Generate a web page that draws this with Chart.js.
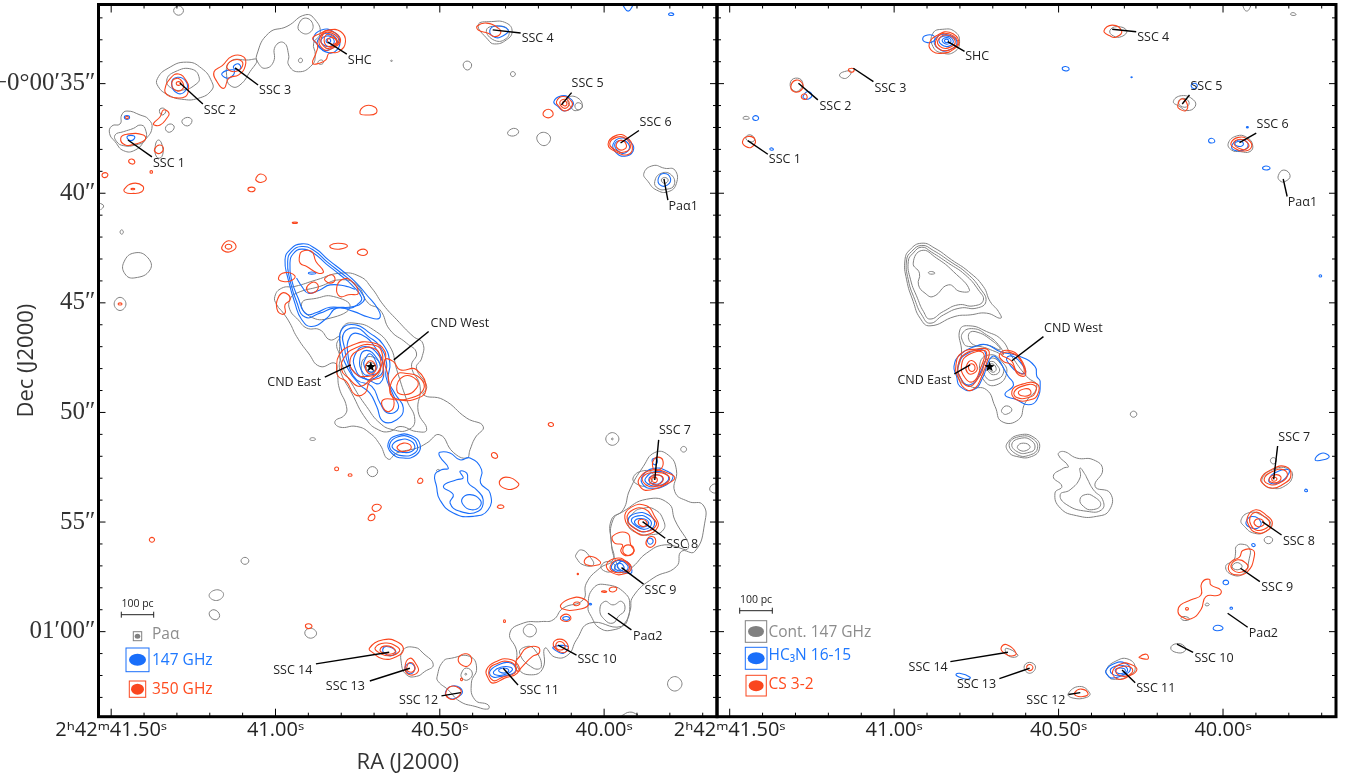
<!DOCTYPE html>
<html><head><meta charset="utf-8">
<style>html,body{margin:0;padding:0;background:#fff;width:1352px;height:778px;overflow:hidden}
canvas{position:absolute;left:0;top:0}</style>
<script src="https://cdn.jsdelivr.net/npm/chart.js@4"></script></head>
<body><canvas id="a" width="1352" height="778"></canvas><canvas id="b" width="1352" height="778"></canvas>
<script>
// every ring: ra(s), dec(") pairs
const raTicks=[41.5,41.4,41.3,41.2,41.1,41.0,40.9,40.8,40.7,40.6,40.5,40.4,40.3,40.2,40.1,40.0,39.9,39.8,39.7];
const raMajor=[41.5,41.0,40.5,40.0];
const raLabels=["2ʰ42ᵐ41.50ˢ","41.00ˢ","40.50ˢ","40.00ˢ"];
const decTicks=[32,33,34,35,36,37,38,39,40,41,42,43,44,45,46,47,48,49,50,51,52,53,54,55,56,57,58,59,60,61,62,63];
const decMajor=[35,40,45,50,55,60];
const decLabels=["−0°00′35″","40″","45″","50″","55″","01′00″"];
const starPos=[40.71,47.92];

const leftGray=[
[41.002,44.71,40.981,44.33,40.941,44.25,40.875,43.95,40.804,43.65,40.743,43.80,40.707,44.33,40.672,45.09,40.631,45.77,40.581,46.53,40.552,46.84,40.555,47.52,40.571,47.98,40.540,48.81,40.550,49.19,40.489,49.42,40.418,50.26,40.368,50.64,40.393,51.17,40.408,51.70,40.418,52.08,40.459,51.82,40.500,51.02,40.540,51.40,40.571,51.63,40.631,51.85,40.657,52.13,40.682,51.47,40.713,50.94,40.753,50.64,40.804,50.67,40.819,50.41,40.789,50.11,40.784,49.73,40.806,48.89,40.812,48.21,40.819,47.75,40.865,47.90,40.900,47.29,40.936,46.53,40.956,45.93,40.976,45.47,40.996,45.09,41.002,44.71],
[40.956,44.86,40.936,44.56,40.865,44.25,40.804,43.95,40.753,44.18,40.718,45.01,40.682,45.32,40.652,46.23,40.601,46.84,40.571,47.29,40.586,47.90,40.560,48.81,40.566,49.95,40.540,50.79,40.571,50.87,40.621,50.64,40.652,50.87,40.687,50.79,40.723,50.33,40.768,49.12,40.804,48.05,40.804,47.45,40.814,46.91,40.804,46.53,40.834,46.69,40.865,46.23,40.905,46.15,40.931,45.77,40.956,45.32,40.956,44.86],
[40.758,45.93,40.702,46.23,40.652,46.99,40.631,48.05,40.601,49.42,40.576,50.33,40.596,50.79,40.642,50.79,40.682,50.49,40.723,49.73,40.763,48.81,40.799,47.75,40.804,46.84,40.794,46.08,40.758,45.93],
[40.920,45.01,40.875,44.79,40.824,44.71,40.773,45.17,40.834,45.70,40.895,45.62,40.920,45.01],
[40.738,47.75,40.711,47.45,40.682,47.83,40.692,48.36,40.723,48.51,40.738,47.75],
[40.725,47.90,40.711,47.72,40.695,47.93,40.707,48.18,40.725,47.90],
[40.721,52.70,40.705,52.47,40.689,52.70,40.705,52.93,40.721,52.70],
[40.896,51.22,40.887,51.15,40.878,51.22,40.887,51.28,40.896,51.22],
[40.510,52.65,40.505,52.60,40.500,52.65,40.505,52.70,40.510,52.65],
[41.452,36.25,41.412,36.43,41.386,36.63,41.376,37.04,41.397,37.57,41.427,38.03,41.462,38.06,41.488,37.65,41.505,37.27,41.498,36.93,41.473,36.84,41.468,36.43,41.452,36.25],
[41.488,37.34,41.462,37.19,41.432,37.04,41.412,36.89,41.397,37.04,41.397,37.57,41.427,37.80,41.462,37.83,41.483,37.65,41.488,37.34],
[41.353,36.20,41.341,36.12,41.334,36.28,41.346,36.43,41.353,36.20],
[41.335,37.04,41.321,36.84,41.308,36.99,41.323,37.22,41.335,37.04],
[41.285,36.73,41.268,36.54,41.254,36.69,41.268,36.93,41.285,36.73],
[41.366,37.87,41.356,37.57,41.344,37.87,41.346,38.33,41.361,38.36,41.366,37.87],
[41.473,41.77,41.468,41.67,41.463,41.77,41.468,41.87,41.473,41.77],
[41.537,40.43,41.523,40.58,41.533,40.77],
[41.461,43.13,41.428,42.72,41.388,42.95,41.382,43.50,41.428,43.86,41.458,43.68,41.461,43.13],
[41.491,45.05,41.473,44.75,41.455,45.05,41.473,45.35,41.491,45.05],
[41.310,31.67,41.295,31.45,41.280,31.67,41.295,31.88,41.310,31.67],
// SSC 2, SSC 3 and the arc to SHC
[41.359,34.76,41.327,34.30,41.271,34.02,41.225,34.30,41.194,34.91,41.194,35.29,41.235,35.67,41.286,35.71,41.327,35.51,41.357,35.13,41.359,34.76],
[41.331,34.84,41.306,34.46,41.255,34.34,41.232,34.75,41.245,35.06,41.281,35.29,41.316,35.21,41.331,34.84],
[41.138,34.00,41.082,33.92,41.057,33.92,41.077,34.44,41.108,35.06,41.133,35.13,41.148,34.75,41.138,34.00],
[41.057,33.69,41.021,32.70,40.965,32.39,40.909,31.86,40.879,32.09,40.864,32.70,40.884,33.16,40.879,33.69,40.889,34.15,40.930,34.46,40.960,34.15,40.960,33.69,40.975,33.13,41.001,33.31,41.006,34.00,41.031,34.30,41.052,34.07,41.057,33.69],
[40.930,32.32,40.909,32.01,40.886,32.32,40.899,32.70,40.925,32.62,40.930,32.32],
[40.930,33.92,40.922,33.84,40.918,33.97,40.926,34.04,40.930,33.92],
[40.871,34.02,40.860,33.92,40.854,34.04,40.864,34.12,40.871,34.02],
// SSC 4, 5, 6, Pa-alpha 1 and neighbours
[40.383,32.32,40.343,32.17,40.297,32.24,40.280,32.62,40.297,33.00,40.333,33.19,40.353,33.00,40.383,32.32],
[40.358,32.55,40.322,32.37,40.292,32.55,40.297,32.93,40.333,33.03,40.358,32.55],
[40.429,34.15,40.417,33.97,40.403,34.15,40.416,34.38,40.429,34.15],
[40.285,34.56,40.278,34.45,40.270,34.56,40.278,34.68,40.285,34.56],
[40.650,33.96,40.647,33.93,40.644,33.96,40.647,33.99,40.650,33.96],
[40.294,37.27,40.276,37.04,40.260,37.19,40.276,37.39,40.294,37.27],
[40.205,37.49,40.185,37.22,40.163,37.49,40.183,37.83,40.205,37.49],
[40.110,35.67,40.084,35.62,40.066,36.02,40.084,36.23,40.099,36.12,40.110,35.67],
[40.089,36.02,40.079,35.87,40.066,36.02,40.079,36.20,40.089,36.02],
[39.879,39.09,39.851,38.74,39.816,38.86,39.785,38.94,39.780,39.55,39.805,39.93,39.841,39.85,39.866,39.47,39.879,39.09],
[39.846,39.47,39.826,39.09,39.795,39.17,39.787,39.63,39.810,39.82,39.836,39.78,39.846,39.47],
[39.826,39.40,39.816,39.28,39.805,39.40,39.816,39.55,39.826,39.40],
// south-east arc
[39.881,52.47,39.846,51.83,39.805,51.94,39.780,52.62,39.785,53.61,39.744,54.06,39.699,54.22,39.694,55.05,39.724,56.34,39.765,56.34,39.780,57.03,39.851,57.56,39.912,58.40,39.922,59.08,39.947,59.76,40.044,59.61,40.084,60.37,40.110,61.06,40.150,61.16,40.180,60.75,40.186,61.66,40.221,61.97,40.262,61.66,40.267,60.83,40.287,60.07,40.246,59.61,40.191,59.54,40.155,59.46,40.125,58.93,40.064,58.55,40.054,57.79,40.013,57.10,39.973,56.72,39.978,55.96,39.978,54.90,39.942,54.44,39.922,53.53,39.881,52.47],
[39.942,54.52,39.871,53.96,39.805,54.14,39.785,54.90,39.744,56.19,39.815,56.04,39.871,56.42,39.912,57.03,39.942,57.33,39.962,56.88,39.978,55.96,39.973,54.90,39.942,54.52],
[40.049,58.85,40.033,58.02,39.993,57.86,39.937,58.24,39.922,58.85,39.937,59.61,39.973,59.92,40.013,59.84,40.039,59.31,40.049,58.85],
[40.013,59.00,39.998,58.62,39.973,58.78,39.947,58.62,39.937,59.00,39.957,59.31,39.973,59.61,39.998,59.46,40.013,59.00],
[40.086,56.50,40.069,56.27,40.044,56.57,40.033,56.95,40.064,56.95,40.084,56.65,40.086,56.50],
[40.246,59.95,40.226,59.66,40.206,59.95,40.226,60.24,40.246,59.95],
[40.257,60.98,40.236,60.68,40.211,60.83,40.191,61.59,40.216,61.66,40.257,60.98],
[40.508,62.04,40.490,61.36,40.464,61.21,40.409,61.13,40.388,61.66,40.404,62.35,40.393,63.11,40.353,63.34,40.353,63.53,40.393,63.41,40.439,63.18,40.475,62.65,40.505,62.27,40.508,62.04],
[40.434,61.89,40.419,61.66,40.401,61.89,40.414,62.20,40.432,62.12,40.434,61.89],
[40.424,61.94,40.421,61.90,40.418,61.94,40.421,61.98,40.424,61.94],
[40.611,60.83,40.576,60.72,40.551,60.98,40.520,61.51,40.546,61.82,40.571,62.04,40.601,61.97,40.617,61.44,40.611,60.83],
[39.807,62.38,39.785,62.05,39.763,62.38,39.785,62.71,39.807,62.38],
[39.995,51.21,39.975,50.92,39.955,51.21,39.975,51.50,39.995,51.21],
[39.978,51.21,39.975,51.17,39.972,51.21,39.975,51.25,39.978,51.21],
[39.767,51.68,39.758,51.55,39.749,51.68,39.758,51.81,39.767,51.68],
[39.679,53.49,39.663,53.26,39.653,53.49,39.663,53.68,39.679,53.49],
[39.947,63.84,39.922,63.67,39.897,63.79],
[39.912,52.99,39.881,52.66,39.851,52.81,39.866,53.30,39.896,53.30,39.912,52.99],
[39.912,54.60,39.881,54.37,39.846,54.43,39.820,54.90,39.820,55.36,39.856,55.58,39.897,55.51,39.927,55.13,39.912,54.60],
[40.009,56.99,39.987,56.80,39.967,56.99,39.977,57.25,40.002,57.21,40.009,56.99],
[41.202,58.35,41.179,58.09,41.158,58.30,41.179,58.58,41.202,58.35],
[41.202,59.19,41.187,59.00,41.170,59.26,41.184,59.46,41.202,59.19],
[40.911,60.07,40.895,59.84,40.875,60.07,40.893,60.30,40.911,60.07],
[41.105,56.77,41.093,56.61,41.081,56.77,41.093,56.93,41.105,56.77]
];

const leftBlue=[
[40.971,43.04,40.956,42.58,40.920,42.31,40.880,42.51,40.839,43.04,40.794,43.57,40.758,44.03,40.723,44.63,40.687,45.32,40.684,45.70,40.718,45.65,40.763,45.39,40.814,45.24,40.844,45.70,40.890,46.08,40.920,45.77,40.941,45.01,40.961,43.95,40.971,43.04],
[40.963,43.11,40.951,42.66,40.920,42.43,40.883,42.61,40.842,43.14,40.799,43.65,40.763,44.10,40.731,44.71,40.733,44.94,40.763,45.17,40.824,45.24,40.865,45.47,40.910,45.65,40.936,44.94,40.956,43.95,40.963,43.11],
[40.956,43.19,40.946,42.76,40.920,42.55,40.885,42.73,40.846,43.22,40.804,43.72,40.768,44.18,40.738,44.76,40.748,45.04,40.773,45.24,40.834,45.20,40.875,45.44,40.907,45.50,40.931,44.79,40.951,43.95,40.956,43.19],
[40.936,43.87,40.920,44.25,40.900,44.56,40.865,44.41,40.834,44.18,40.784,44.25,40.758,44.38],
[40.900,43.65,40.890,43.59,40.877,43.65,40.890,43.69,40.900,43.65],
[40.799,46.23,40.758,46.00,40.713,46.38,40.672,46.91,40.652,47.75,40.657,48.51,40.637,49.12,40.611,49.80,40.631,50.33,40.672,50.41,40.692,49.73,40.713,49.12,40.743,48.74,40.778,48.05,40.799,47.14,40.799,46.23],
[40.792,46.38,40.753,46.15,40.718,46.53,40.682,46.99,40.662,47.75,40.664,48.36,40.642,49.19,40.626,49.80,40.657,50.03,40.682,49.57,40.707,48.81,40.753,48.51,40.778,47.83,40.789,47.14,40.792,46.38],
[40.773,46.53,40.738,46.46,40.692,47.14,40.672,47.90,40.682,48.66,40.718,48.51,40.758,48.21,40.778,47.52,40.773,46.53],
[40.758,47.37,40.728,46.99,40.687,47.37,40.672,48.05,40.697,48.43,40.733,48.43,40.758,47.98,40.758,47.37],
[40.743,47.52,40.723,47.17,40.692,47.52,40.682,48.05,40.707,48.28,40.733,48.21,40.743,47.52],
[40.728,47.60,40.713,47.32,40.695,47.67,40.694,48.05,40.718,48.13,40.731,47.83,40.728,47.60],
[40.657,51.40,40.631,51.05,40.586,51.06,40.560,51.47,40.571,51.93,40.611,52.08,40.647,51.85,40.657,51.40],
[40.652,51.43,40.629,51.12,40.589,51.14,40.568,51.52,40.576,51.85,40.611,51.98,40.644,51.78,40.652,51.43],
[40.644,51.47,40.621,51.25,40.591,51.28,40.576,51.55,40.586,51.78,40.613,51.82,40.638,51.70,40.644,51.47],
[40.500,51.82,40.469,51.85,40.439,52.16,40.408,52.08,40.373,52.61,40.376,53.22,40.347,53.68,40.353,54.44,40.398,54.74,40.459,54.59,40.500,53.98,40.510,53.37,40.515,52.84,40.495,52.61,40.474,52.54,40.500,52.01,40.500,51.82],
[40.439,52.69,40.418,52.77,40.413,53.22,40.388,53.53,40.368,53.98,40.383,54.51,40.439,54.51,40.469,54.13,40.459,53.75,40.489,53.37,40.449,53.07,40.429,52.99,40.439,52.69],
[40.431,53.91,40.408,53.75,40.378,53.98,40.378,54.29,40.403,54.44,40.429,54.21,40.431,53.91],
// knots
[41.452,37.45,41.440,37.36,41.428,37.45,41.440,37.60,41.452,37.45],
[41.460,36.54,41.452,36.46,41.444,36.54,41.452,36.63,41.460,36.54],
[41.316,34.98,41.298,34.71,41.272,34.91,41.272,35.29,41.298,35.44,41.316,34.98],
[41.163,34.53,41.128,34.37,41.128,34.60,41.148,34.75,41.163,34.53],
[41.128,34.22,41.113,34.10,41.106,34.30,41.120,34.37,41.128,34.22],
[40.885,32.93,40.860,32.55,40.824,32.63,40.804,33.08,40.819,33.54,40.849,33.54,40.870,33.24,40.885,32.93],
[40.872,33.04,40.844,32.70,40.811,33.08,40.838,33.46,40.864,33.39,40.872,33.04],
[40.862,33.05,40.839,32.82,40.821,33.08,40.839,33.31,40.862,33.05],
[40.846,33.04,40.839,32.94,40.832,33.05,40.839,33.14,40.846,33.04],
[40.348,32.58,40.328,32.37,40.292,32.55,40.307,32.82,40.333,32.88,40.348,32.58],
[40.153,35.82,40.130,35.56,40.104,35.67,40.094,35.97,40.120,36.25,40.140,36.05,40.153,35.82],
[39.973,37.77,39.948,37.48,39.917,37.70,39.912,38.08,39.937,38.31,39.963,38.16,39.973,37.77],
[39.968,37.80,39.948,37.59,39.925,37.77,39.928,38.08,39.948,38.16,39.968,37.80],
[39.835,39.32,39.818,39.10,39.798,39.32,39.808,39.63,39.829,39.63,39.835,39.32],
[39.945,31.38,39.927,31.69,39.910,31.38],
[39.804,31.83,39.796,31.77,39.788,31.85,39.796,31.89,39.804,31.83],
[39.884,52.92,39.848,52.55,39.805,52.70,39.790,52.92,39.810,53.30,39.855,53.46,39.881,53.30,39.884,52.92],
[39.874,53.00,39.843,52.70,39.808,52.85,39.808,53.15,39.843,53.35,39.869,53.23,39.874,53.00],
[39.864,53.05,39.843,52.85,39.823,52.95,39.828,53.20,39.848,53.26,39.864,53.05],
[39.854,52.18,39.846,52.09,39.838,52.24,39.846,52.39,39.854,52.18],
[39.927,54.90,39.902,54.60,39.866,54.67,39.846,55.05,39.871,55.43,39.907,55.28,39.927,54.90],
[39.917,54.90,39.897,54.72,39.871,54.78,39.856,55.08,39.876,55.33,39.904,55.17,39.917,54.90],
[39.907,54.95,39.892,54.84,39.871,54.90,39.866,55.13,39.886,55.23,39.902,55.13,39.907,54.95],
[39.868,55.81,39.858,55.74,39.851,55.89,39.861,56.01,39.868,55.81],
[39.960,57.00,39.940,56.77,39.920,57.00,39.919,57.35,39.948,57.20,39.960,57.00],
[39.977,56.98,39.957,56.75,39.930,56.95,39.930,57.18,39.950,57.30,39.973,57.19,39.977,56.98],
[39.967,57.00,39.953,56.88,39.940,57.03,39.945,57.21,39.963,57.18,39.967,57.00],
[40.046,58.74,40.042,58.71,40.038,58.75,40.042,58.78,40.046,58.74],
[40.126,59.39,40.115,59.31,40.105,59.40,40.115,59.48,40.126,59.39],
[40.155,60.70,40.143,60.90,40.123,60.98,40.110,60.68,40.155,60.70],
[40.348,61.82,40.321,61.51,40.290,61.41,40.269,61.67,40.279,61.92,40.315,62.04,40.338,62.07,40.348,61.82],
[40.336,61.82,40.315,61.62,40.285,61.62,40.280,61.77,40.305,61.97,40.331,61.97,40.336,61.82],
[40.321,61.77,40.305,61.66,40.290,61.77,40.305,61.89,40.321,61.77],
[40.482,62.73,40.456,62.47,40.431,62.73,40.451,63.03,40.472,63.03,40.482,62.73],
[40.674,60.83,40.662,60.68,40.634,60.90,40.647,61.10,40.667,61.00,40.674,60.83],
[40.606,61.67,40.591,61.44,40.576,61.67,40.589,61.92,40.606,61.67]
];

const leftRed=[
[40.920,42.66,40.890,42.66,40.877,43.11,40.854,43.57,40.870,43.65,40.905,43.34,40.925,43.19,40.927,42.89,40.920,42.66],
[40.900,44.18,40.880,44.06,40.870,44.33,40.890,44.56,40.905,44.41,40.900,44.18],
[40.849,43.87,40.829,43.72,40.819,43.95,40.834,44.10,40.849,43.98,40.849,43.87],
[40.814,44.33,40.799,43.95,40.773,43.95,40.748,44.56,40.778,44.63,40.804,44.71,40.814,44.33],
[40.991,43.87,40.971,43.62,40.941,43.77,40.951,43.98,40.976,44.03,40.991,43.87],
[40.996,44.94,40.981,44.56,40.961,44.63,40.956,44.86,40.971,45.09,40.971,45.47,40.988,45.47,40.996,45.24,40.996,44.94],
[40.834,42.38,40.809,42.28,40.781,42.40,40.804,42.55,40.829,42.51,40.834,42.38],
[40.751,42.70,40.733,42.55,40.720,42.70,40.733,42.84,40.751,42.70],
[40.814,48.05,40.806,47.37,40.768,46.94,40.707,46.81,40.667,47.22,40.672,47.90,40.677,48.36,40.713,48.59,40.728,49.12,40.758,49.19,40.784,48.59,40.809,48.36,40.814,48.05],
[40.799,48.05,40.789,47.45,40.758,47.07,40.707,46.91,40.677,47.22,40.682,48.05,40.707,48.43,40.743,48.81,40.778,48.43,40.799,48.05],
[40.773,47.60,40.743,47.14,40.702,47.07,40.682,47.45,40.687,48.13,40.723,48.36,40.758,48.21,40.773,47.60],
[40.725,47.83,40.711,47.64,40.696,47.83,40.697,48.13,40.713,48.24,40.725,48.05,40.725,47.83],
[40.667,47.60,40.642,47.67,40.621,48.05,40.571,48.05,40.542,48.97,40.581,49.42,40.631,49.42,40.672,49.42,40.672,49.80,40.652,49.95,40.639,49.57,40.652,48.97,40.657,48.36,40.667,47.60],
[40.631,48.28,40.606,48.21,40.560,48.43,40.550,48.97,40.591,49.35,40.637,49.35,40.652,48.97,40.631,48.28],
[40.611,48.36,40.571,48.51,40.571,48.89,40.606,49.19,40.631,48.97,40.611,48.36],
[40.629,51.55,40.611,51.40,40.591,51.47,40.589,51.67,40.611,51.78,40.626,51.70,40.629,51.55],
[40.820,52.58,40.814,52.49,40.808,52.58,40.814,52.66,40.820,52.58],
[40.779,52.86,40.773,52.80,40.767,52.86,40.773,52.91,40.779,52.86],
// SSC 1 field
[41.471,37.49,41.452,37.31,41.402,37.34,41.397,37.57,41.427,37.75,41.457,37.80,41.471,37.49],
[41.456,36.54,41.452,36.49,41.448,36.54,41.452,36.60,41.456,36.54],
[41.371,36.81,41.351,36.51,41.341,36.20,41.324,36.35,41.331,36.58,41.351,36.89,41.369,36.89,41.371,36.81],
[41.368,37.98,41.353,37.80,41.341,37.95,41.351,38.18,41.365,38.13,41.368,37.98],
[41.447,38.53,41.437,38.44,41.428,38.59,41.437,38.67,41.447,38.53],
[41.382,39.03,41.378,38.97,41.374,39.03,41.378,39.09,41.382,39.03],
[41.528,39.17,41.518,39.06,41.510,39.17,41.520,39.29,41.528,39.17],
[41.460,39.81,41.434,39.55,41.404,39.67,41.407,39.93,41.437,40.01,41.457,39.96,41.460,39.81],
[41.440,39.81,41.434,39.78,41.428,39.81,41.434,39.84,41.440,39.81],
[41.059,39.29,41.045,39.12,41.028,39.32,41.042,39.50,41.057,39.44,41.059,39.29],
[41.084,39.81,41.072,39.72,41.062,39.82,41.075,39.93,41.084,39.81],
[40.949,41.35,40.941,41.32,40.933,41.35,40.941,41.38,40.949,41.35],
[41.163,42.44,41.143,42.17,41.120,42.41,41.138,42.67,41.158,42.62,41.163,42.44],
[41.153,42.44,41.143,42.33,41.133,42.44,41.143,42.55,41.153,42.44],
[41.479,45.05,41.473,45.00,41.467,45.05,41.473,45.10,41.479,45.05],
// SSC 2, 3, SHC
[41.337,35.29,41.320,34.76,41.295,34.56,41.270,34.91,41.265,35.29,41.275,35.60,41.310,35.63,41.330,35.51,41.337,35.29],
[41.316,35.00,41.301,34.76,41.284,34.91,41.281,35.21,41.301,35.32,41.316,35.00],
[41.302,34.98,41.295,34.91,41.288,35.00,41.295,35.08,41.302,34.98],
[41.187,34.46,41.162,34.18,41.132,33.75,41.097,33.78,41.092,34.19,41.112,34.60,41.142,34.75,41.157,35.21,41.178,34.91,41.187,34.46],
[41.147,34.15,41.127,33.92,41.102,33.99,41.104,34.30,41.122,34.45,41.142,34.38,41.147,34.15],
[40.887,32.93,40.862,32.70,40.837,32.55,40.802,32.62,40.787,33.08,40.807,33.54,40.837,33.62,40.847,33.92,40.867,34.07,40.887,34.07,40.877,33.62,40.872,33.24,40.887,32.93],
[40.867,33.00,40.842,32.58,40.802,33.00,40.837,33.46,40.857,33.39,40.867,33.00],
[40.862,33.00,40.842,32.65,40.807,33.03,40.837,33.39,40.852,33.31,40.862,33.00],
[40.852,33.03,40.840,32.75,40.814,33.08,40.837,33.31,40.852,33.03],
[40.842,33.03,40.827,32.90,40.812,33.08,40.827,33.20,40.842,33.03],
// SSC 4, 5, 6
[40.386,32.37,40.358,32.24,40.322,32.47,40.315,32.70,40.333,32.85,40.353,32.70,40.383,32.55,40.386,32.37],
[40.743,36.35,40.728,36.02,40.697,36.08,40.694,36.35,40.723,36.43,40.743,36.35],
[40.186,36.38,40.170,36.17,40.155,36.38,40.170,36.56,40.186,36.38],
[40.145,35.82,40.125,35.59,40.099,35.82,40.099,36.05,40.120,36.25,40.137,36.05,40.145,35.82],
[40.135,35.87,40.120,35.71,40.106,35.90,40.120,36.13,40.135,35.87],
[40.127,35.90,40.120,35.79,40.113,35.93,40.120,36.02,40.127,35.90],
[39.988,37.77,39.963,37.36,39.932,37.44,39.914,37.90,39.927,38.23,39.963,38.12,39.988,37.77],
[39.983,37.74,39.961,37.44,39.934,37.51,39.920,37.90,39.938,38.12,39.963,38.05,39.983,37.74],
[39.963,37.77,39.948,37.59,39.932,37.82,39.942,38.02,39.958,37.97,39.963,37.77],
// SE arc knots
[39.893,53.00,39.851,52.62,39.805,52.77,39.785,53.00,39.815,53.30,39.856,53.53,39.886,53.46,39.893,53.00],
[39.881,52.92,39.846,52.74,39.805,52.89,39.805,53.15,39.846,53.38,39.876,53.26,39.881,52.92],
[39.861,53.05,39.846,52.85,39.820,53.00,39.836,53.30,39.858,53.23,39.861,53.05],
[39.856,53.05,39.846,52.95,39.838,53.08,39.846,53.20,39.856,53.05],
[39.848,52.13,39.836,52.04,39.822,52.16,39.825,52.54,39.846,52.62,39.853,52.39,39.848,52.13],
[39.937,54.82,39.917,54.32,39.871,54.26,39.846,54.75,39.836,55.20,39.871,55.58,39.907,55.43,39.937,54.82],
[39.930,54.82,39.912,54.44,39.876,54.41,39.851,54.82,39.841,55.13,39.871,55.43,39.907,55.28,39.930,54.82],
[39.896,54.98,39.886,54.87,39.871,54.98,39.873,55.17,39.889,55.17,39.896,54.98],
[39.871,55.84,39.856,55.66,39.843,55.84,39.853,56.12,39.869,56.09,39.871,55.84],
[39.973,55.63,39.929,55.51,39.919,56.04,39.909,56.34,39.929,56.54,39.949,56.34,39.944,56.04,39.968,55.96,39.973,55.63],
[39.942,56.19,39.927,56.04,39.910,56.19,39.917,56.47,39.937,56.47,39.942,56.19],
[39.993,56.95,39.963,56.65,39.932,56.80,39.917,57.10,39.937,57.36,39.973,57.33,39.993,56.95],
[39.981,57.00,39.958,56.72,39.930,56.88,39.924,57.15,39.948,57.30,39.973,57.26,39.981,57.00],
[40.059,56.72,40.039,56.57,40.012,56.80,40.016,56.95,40.054,56.95,40.059,56.72],
[40.082,57.37,40.080,57.34,40.078,57.37,40.080,57.40,40.082,57.37],
[40.008,58.17,39.998,58.14,39.992,58.18,40.000,58.21,40.008,58.17],
[39.983,58.02,39.963,57.99,39.965,58.14,39.981,58.17,39.983,58.02],
[40.132,58.78,40.104,58.50,40.068,58.47,40.048,58.78,40.084,59.00,40.125,58.97,40.132,58.78],
[40.092,58.70,40.079,58.65,40.074,58.75,40.089,58.81,40.092,58.70],
[40.133,59.39,40.115,59.20,40.101,59.39,40.115,59.54,40.133,59.39],
[40.306,59.52,40.304,59.46,40.300,59.52,40.304,59.58,40.306,59.52],
[40.155,60.55,40.135,60.34,40.112,60.55,40.114,60.90,40.137,60.90,40.155,60.55],
[40.147,60.60,40.135,60.45,40.120,60.60,40.124,60.80,40.142,60.80,40.147,60.60],
[40.358,61.74,40.328,61.36,40.292,61.25,40.262,61.51,40.264,61.89,40.303,62.12,40.338,62.35,40.353,62.12,40.358,61.74],
[40.350,61.74,40.323,61.44,40.292,61.36,40.270,61.56,40.272,61.89,40.308,62.07,40.338,62.23,40.350,61.74],
[40.257,61.13,40.236,60.75,40.201,60.71,40.198,60.98,40.218,61.13,40.252,61.64,40.262,61.82,40.270,61.43,40.257,61.13],
[40.714,60.75,40.672,60.37,40.626,60.49,40.611,60.83,40.631,61.13,40.672,61.25,40.702,60.98,40.714,60.75],
[40.697,60.75,40.667,60.52,40.631,60.68,40.623,60.90,40.652,61.10,40.682,60.98,40.697,60.75],
[40.682,60.83,40.662,60.65,40.636,60.83,40.642,61.00,40.667,61.00,40.682,60.83],
[40.606,61.67,40.591,61.21,40.571,61.51,40.566,61.82,40.591,61.97,40.606,61.67],
[40.601,61.67,40.591,61.41,40.576,61.59,40.581,61.82,40.596,61.82,40.601,61.67],
[40.482,62.81,40.467,62.50,40.441,62.58,40.436,62.81,40.456,63.08,40.474,63.03,40.482,62.81],
[40.444,61.25,40.424,61.01,40.405,61.16,40.409,61.51,40.429,61.56,40.444,61.25],
[40.437,62.17,40.434,62.12,40.431,62.18,40.434,62.24,40.437,62.17],
[40.319,53.22,40.299,52.95,40.261,53.22,40.267,53.42,40.297,53.49,40.319,53.22],
[40.567,53.11,40.557,53.00,40.552,53.15,40.564,53.23,40.567,53.11],
[40.343,51.94,40.335,51.83,40.324,52.01,40.333,52.09,40.343,51.94],
[40.706,54.34,40.691,54.19,40.678,54.32,40.696,54.52,40.706,54.34],
[40.718,54.82,40.703,54.64,40.698,54.82,40.711,54.94,40.718,54.82],
[40.325,54.30,40.312,54.22,40.305,54.32,40.317,54.38,40.325,54.30],
[40.170,50.54,40.162,50.46,40.154,50.57,40.162,50.64,40.170,50.54],
[41.384,55.81,41.376,55.70,41.368,55.81,41.376,55.92,41.384,55.81],
[40.909,59.73,40.900,59.64,40.889,59.76,40.900,59.86,40.909,59.73]
];

const rightGray=[
[40.967,43.04,40.952,42.58,40.916,42.28,40.876,42.51,40.825,43.04,40.774,43.57,40.729,44.25,40.708,44.94,40.683,45.39,40.676,45.70,40.719,45.47,40.769,45.55,40.815,45.62,40.891,46.05,40.921,45.70,40.942,44.94,40.962,43.95,40.967,43.04],
[40.962,43.04,40.947,42.66,40.916,42.38,40.881,42.61,40.830,43.11,40.779,43.65,40.739,44.33,40.721,44.94,40.749,45.24,40.800,45.24,40.850,45.55,40.891,45.93,40.916,45.55,40.937,44.86,40.957,43.95,40.962,43.04],
[40.957,43.11,40.942,42.73,40.916,42.46,40.886,42.69,40.835,43.19,40.784,43.72,40.744,44.41,40.729,44.89,40.759,45.14,40.805,45.09,40.850,45.39,40.891,45.74,40.911,45.39,40.929,44.79,40.950,43.95,40.957,43.11],
[40.942,43.19,40.916,42.61,40.871,42.96,40.820,43.57,40.771,44.41,40.800,44.48,40.835,44.18,40.881,44.71,40.906,44.56,40.926,44.18,40.923,43.65,40.942,43.19],
[40.896,43.62,40.886,43.57,40.876,43.65,40.889,43.69,40.896,43.62],
[40.800,46.23,40.769,46.05,40.719,46.31,40.673,46.69,40.642,47.45,40.597,48.36,40.566,48.81,40.602,49.57,40.622,50.33,40.673,50.41,40.693,49.73,40.719,48.97,40.769,48.81,40.805,48.36,40.795,47.29,40.800,46.23],
[40.792,46.38,40.759,46.18,40.719,46.46,40.683,46.91,40.668,47.37,40.693,47.22,40.739,46.99,40.774,46.99,40.789,46.84,40.792,46.38],
[40.774,46.46,40.754,46.31,40.699,46.76,40.678,47.14,40.719,46.91,40.759,46.91,40.774,46.46],
[40.739,47.75,40.708,47.37,40.673,47.67,40.658,48.21,40.688,48.74,40.724,48.59,40.739,47.75],
[40.729,47.83,40.705,47.52,40.678,47.75,40.668,48.21,40.693,48.51,40.719,48.43,40.729,47.83],
[40.719,47.87,40.703,47.67,40.686,47.87,40.680,48.13,40.698,48.28,40.713,48.13,40.719,47.87],
[40.713,47.90,40.703,47.78,40.691,47.93,40.693,48.13,40.706,48.13,40.713,47.90],
[40.673,49.88,40.658,49.70,40.642,49.88,40.658,50.08,40.670,50.03,40.673,49.88],
[40.656,51.40,40.617,51.02,40.572,51.17,40.558,51.63,40.582,52.01,40.627,52.01,40.653,51.78,40.656,51.40],
[40.650,51.43,40.615,51.09,40.577,51.22,40.564,51.63,40.585,51.93,40.625,51.93,40.650,51.43],
[40.642,51.44,40.612,51.17,40.582,51.29,40.572,51.63,40.589,51.82,40.622,51.82,40.642,51.44],
[40.625,51.55,40.607,51.40,40.587,51.55,40.597,51.73,40.617,51.73,40.625,51.55],
[40.282,50.08,40.272,49.94,40.262,50.08,40.272,50.22,40.282,50.08],
[40.501,51.93,40.485,51.78,40.445,52.08,40.394,52.16,40.366,52.61,40.389,53.37,40.343,53.68,40.345,54.44,40.384,54.74,40.445,54.71,40.495,54.36,40.511,53.68,40.490,53.37,40.516,52.92,40.485,52.54,40.470,52.46,40.501,51.93],
[40.435,52.54,40.419,52.84,40.414,52.99,40.394,53.53,40.366,53.98,40.369,54.44,40.414,54.51,40.475,54.21,40.495,53.75,40.465,53.53,40.435,52.99,40.435,52.54],
[40.435,53.98,40.419,53.75,40.394,53.83,40.372,54.21,40.399,54.44,40.424,54.29,40.435,53.98],
// north arc
[41.451,37.45,41.436,37.34,41.424,37.57,41.440,37.65,41.451,37.45],
[41.460,36.57,41.450,36.49,41.440,36.58,41.452,36.63,41.460,36.57],
[41.316,34.98,41.300,34.75,41.279,34.91,41.287,35.29,41.306,35.32,41.316,34.98],
[41.166,34.60,41.151,34.45,41.131,34.45,41.141,34.71,41.156,34.75,41.166,34.60],
[40.882,32.70,40.852,32.52,40.816,32.62,40.801,33.08,40.816,33.54,40.852,33.61,40.882,33.31,40.882,32.70],
// SSC 4..6, Pa-alpha 1
[40.344,32.58,40.322,32.40,40.293,32.58,40.308,32.85,40.334,32.82,40.344,32.58],
[40.151,35.82,40.126,35.55,40.090,35.74,40.085,36.05,40.110,36.23,40.131,36.05,40.151,35.82],
[40.136,35.87,40.121,35.67,40.103,35.87,40.116,36.08,40.136,35.87],
[39.984,37.72,39.959,37.39,39.928,37.45,39.910,37.80,39.918,38.10,39.948,38.10,39.974,38.03,39.984,37.72],
[39.832,39.20,39.815,38.94,39.796,39.20,39.812,39.47,39.827,39.43,39.832,39.20],
[39.945,31.30,39.928,31.69,39.910,31.30],
[39.795,31.83,39.787,31.76,39.778,31.85,39.787,31.89,39.795,31.83],
// SE knots
[39.880,52.99,39.850,52.62,39.804,52.55,39.789,52.92,39.815,53.38,39.850,53.46,39.875,53.30,39.880,52.99],
[39.856,52.19,39.847,52.06,39.838,52.19,39.847,52.35,39.856,52.19],
[39.945,54.90,39.920,54.57,39.885,54.67,39.855,55.05,39.870,55.43,39.905,55.51,39.935,55.20,39.945,54.90],
[39.875,55.81,39.862,55.66,39.849,55.81,39.862,55.99,39.875,55.81],
[39.960,56.12,39.942,56.01,39.920,56.19,39.920,56.65,39.937,57.33,39.972,57.41,39.992,57.03,39.967,56.72,39.962,56.42,39.960,56.12],
[39.972,57.03,39.957,56.85,39.942,57.03,39.957,57.18,39.972,57.03],
[40.128,59.38,40.115,59.31,40.102,59.43,40.118,59.49,40.128,59.38],
[40.054,58.75,40.047,58.70,40.042,58.78,40.052,58.82,40.054,58.75],
[40.159,60.75,40.142,60.55,40.117,60.67,40.117,60.90,40.142,60.95,40.159,60.75],
[40.355,61.74,40.328,61.36,40.289,61.25,40.267,61.66,40.289,62.04,40.335,62.17,40.350,62.01,40.355,61.74],
[40.471,62.84,40.436,62.50,40.405,62.81,40.415,63.00,40.456,63.03,40.471,62.84],
[40.605,61.62,40.588,61.40,40.570,61.62,40.588,61.90,40.605,61.62],
[40.659,60.76,40.624,61.06,40.639,61.17,40.659,60.99,40.659,60.76]
];

const rightBlue=[
[40.818,47.90,40.800,47.37,40.754,46.99,40.719,46.91,40.678,47.22,40.617,47.45,40.572,47.90,40.566,48.36,40.556,48.59,40.566,49.42,40.592,49.65,40.627,49.42,40.663,49.19,40.637,48.74,40.653,48.36,40.693,47.45,40.713,47.67,40.729,48.36,40.759,48.97,40.800,48.81,40.810,48.36,40.818,47.90],
[40.805,47.83,40.774,47.29,40.724,47.22,40.739,48.21,40.769,48.74,40.795,48.51,40.805,47.83],
[40.658,47.52,40.637,47.45,40.607,47.90,40.602,48.21,40.627,48.13,40.648,47.83,40.658,47.52],
[41.378,37.98,41.373,37.93,41.367,38.00,41.373,38.04,41.378,37.98],
[41.430,36.57,41.421,36.46,41.412,36.58,41.421,36.68,41.430,36.57],
[41.277,35.59,41.263,35.36,41.250,35.52,41.260,35.70,41.273,35.68,41.277,35.59],
[40.913,32.93,40.898,32.78,40.877,32.85,40.882,33.08,40.903,33.11,40.913,32.93],
[40.877,33.03,40.847,32.75,40.809,33.08,40.837,33.49,40.867,33.38,40.877,33.03],
[40.864,33.03,40.842,32.82,40.820,33.07,40.840,33.31,40.864,33.03],
[40.854,33.03,40.840,32.90,40.827,33.05,40.840,33.20,40.854,33.03],
[40.847,33.03,40.840,32.97,40.834,33.05,40.840,33.13,40.847,33.03],
[40.489,34.30,40.479,34.22,40.468,34.34,40.479,34.42,40.489,34.30],
[40.280,34.71,40.278,34.69,40.276,34.71,40.278,34.73,40.280,34.71],
[40.097,35.09,40.088,34.98,40.078,35.10,40.088,35.23,40.097,35.09],
[39.929,36.99,39.926,36.96,39.923,36.99,39.926,37.02,39.929,36.99],
[40.044,37.60,40.035,37.49,40.025,37.63,40.035,37.71,40.044,37.60],
[39.880,38.85,39.869,38.76,39.857,38.86,39.869,38.94,39.880,38.85],
[39.974,37.87,39.953,37.57,39.928,37.65,39.928,37.95,39.959,38.06,39.974,37.87],
[39.964,37.75,39.950,37.63,39.938,37.75,39.948,37.87,39.964,37.75],
[39.708,43.77,39.704,43.72,39.700,43.77,39.704,43.82,39.708,43.77],
[39.860,53.05,39.840,52.74,39.800,52.62,39.810,53.00,39.835,53.23,39.855,53.23,39.860,53.05],
[39.720,52.16,39.700,51.86,39.677,52.01,39.695,52.16,39.720,52.16],
[39.752,53.56,39.748,53.50,39.743,53.58,39.748,53.62,39.752,53.56],
[39.930,55.00,39.910,54.75,39.885,55.00,39.895,55.28,39.920,55.23,39.930,55.00],
[39.913,56.04,39.908,55.98,39.902,56.06,39.908,56.12,39.913,56.04],
[40.000,57.76,39.991,57.65,39.983,57.76,39.992,57.86,40.000,57.76],
[39.979,58.93,39.975,58.88,39.971,58.93,39.975,58.98,39.979,58.93],
[40.030,59.85,40.016,59.71,40.000,59.84,40.018,59.96,40.030,59.85],
[40.356,61.77,40.328,61.44,40.297,61.44,40.282,61.74,40.307,62.01,40.338,62.12,40.350,62.01,40.356,61.77],
[40.343,61.77,40.323,61.56,40.297,61.59,40.292,61.82,40.323,62.01,40.343,61.77],
[40.328,61.77,40.312,61.66,40.297,61.77,40.312,61.92,40.328,61.77],
[40.812,61.97,40.801,61.90,40.769,62.08,40.776,62.17,40.801,62.08,40.812,61.97]
];

const rightRed=[
[40.812,47.83,40.795,47.29,40.749,47.11,40.713,47.17,40.719,47.75,40.734,48.36,40.754,48.89,40.779,48.97,40.805,48.43,40.812,47.83],
[40.805,47.83,40.784,47.32,40.739,47.17,40.719,47.26,40.727,47.83,40.744,48.43,40.774,48.81,40.800,48.36,40.805,47.83],
[40.795,47.83,40.774,47.37,40.729,47.29,40.739,48.05,40.759,48.59,40.784,48.43,40.795,47.83],
[40.781,47.90,40.764,47.63,40.747,47.98,40.761,48.24,40.777,48.18,40.781,47.90],
[40.774,47.93,40.764,47.78,40.754,47.98,40.764,48.13,40.774,47.93],
[40.680,47.37,40.653,47.17,40.617,47.52,40.600,48.28,40.622,48.28,40.642,47.83,40.668,47.67,40.680,47.37],
[40.673,47.37,40.648,47.26,40.617,47.60,40.605,48.21,40.627,48.13,40.642,47.67,40.673,47.37],
[40.642,49.04,40.617,48.74,40.566,48.69,40.564,49.19,40.587,49.42,40.627,49.42,40.642,49.04],
[40.635,49.07,40.612,48.81,40.572,48.77,40.572,49.12,40.592,49.32,40.627,49.32,40.635,49.07],
[40.622,49.07,40.602,48.92,40.587,48.97,40.587,49.19,40.612,49.24,40.622,49.07],
[41.461,37.64,41.444,37.41,41.422,37.59,41.434,37.90,41.451,37.87,41.461,37.64],
[41.314,35.13,41.298,34.84,41.278,35.02,41.282,35.29,41.302,35.38,41.314,35.13],
[41.282,35.56,41.270,35.47,41.265,35.67,41.277,35.70,41.282,35.56],
[41.139,34.37,41.129,34.30,41.121,34.37,41.131,34.48,41.139,34.37],
[40.893,33.16,40.867,32.78,40.832,32.66,40.803,33.08,40.822,33.46,40.852,33.61,40.882,33.54,40.893,33.16],
[40.874,33.08,40.847,32.70,40.806,33.08,40.832,33.46,40.862,33.43,40.874,33.08],
[40.867,33.03,40.842,32.78,40.814,33.08,40.837,33.38,40.860,33.31,40.867,33.03],
[40.362,32.59,40.336,32.33,40.308,32.62,40.326,32.88,40.344,32.82,40.362,32.59],
[40.138,36.02,40.126,35.70,40.109,35.93,40.113,36.23,40.131,36.17,40.138,36.02],
[39.976,37.72,39.953,37.45,39.923,37.57,39.913,37.87,39.933,38.07,39.964,37.95,39.976,37.72],
[39.967,37.72,39.948,37.54,39.926,37.69,39.923,37.91,39.943,38.00,39.967,37.72],
[39.885,53.04,39.855,52.62,39.810,52.47,39.794,52.92,39.820,53.30,39.850,53.46,39.875,53.30,39.885,53.04],
[39.875,53.04,39.850,52.69,39.815,52.62,39.805,52.92,39.830,53.23,39.855,53.30,39.875,53.04],
[39.860,53.04,39.845,52.85,39.825,52.92,39.830,53.15,39.850,53.20,39.860,53.04],
[39.852,53.04,39.845,52.95,39.836,53.04,39.845,53.14,39.852,53.04],
[39.925,54.75,39.900,54.44,39.870,54.67,39.850,55.05,39.870,55.43,39.900,55.48,39.920,55.20,39.925,54.75],
[39.918,54.79,39.900,54.55,39.875,54.75,39.858,55.05,39.875,55.33,39.900,55.36,39.915,55.13,39.918,54.79],
[39.905,54.98,39.890,54.85,39.875,55.05,39.885,55.20,39.900,55.17,39.905,54.98],
[39.940,56.30,39.910,56.27,39.905,56.57,39.925,57.25,39.960,57.41,39.983,57.18,39.975,56.80,39.950,56.60,39.940,56.30],
[39.975,56.95,39.955,56.72,39.930,56.88,39.925,57.10,39.950,57.30,39.970,57.18,39.975,56.95],
[40.065,57.79,40.042,57.61,40.037,57.87,40.007,58.10,40.012,58.33,40.052,58.40,40.067,58.99,40.097,59.41,40.127,59.31,40.137,59.08,40.129,58.78,40.097,58.55,40.067,58.33,40.065,57.79],
[40.114,58.96,40.110,58.90,40.105,58.96,40.110,59.02,40.114,58.96],
[40.255,61.16,40.233,61.03,40.228,61.24,40.248,61.22,40.255,61.16],
[40.336,61.82,40.309,61.46,40.278,61.51,40.262,61.74,40.287,62.04,40.318,62.17,40.336,61.82],
[40.326,61.82,40.303,61.58,40.278,61.66,40.278,61.89,40.303,62.04,40.326,61.82],
[40.451,62.78,40.431,62.62,40.410,62.84,40.426,62.96,40.446,62.93,40.451,62.78],
[40.675,60.76,40.659,60.59,40.629,60.99,40.644,61.11,40.664,60.99,40.675,60.76],
[40.597,61.62,40.588,61.50,40.578,61.64,40.588,61.78,40.597,61.62]
];

const names=["SSC 1","SSC 2","SSC 3","SHC","SSC 4","SSC 5","SSC 6","Paα1","CND West","CND East","SSC 7","SSC 8","SSC 9","Paα2","SSC 10","SSC 11","SSC 12","SSC 13","SSC 14"];
const leftLabelRA=[41.373,41.218,41.050,40.780,40.251,40.099,39.892,39.804,40.528,41.025,39.833,39.811,39.877,39.912,40.081,40.257,40.624,40.847,41.007];
const leftLabelDec=[38.62,36.20,35.33,33.92,32.92,35.01,36.79,40.62,45.92,48.65,50.84,56.00,58.10,60.23,61.29,62.69,63.16,62.52,61.75];
const rightLabelRA=[41.381,41.227,41.060,40.784,40.261,40.099,39.898,39.803,40.544,40.990,39.832,39.818,39.884,39.922,40.087,40.264,40.598,40.809,40.956];
const rightLabelDec=[38.48,36.06,35.20,33.78,32.90,35.15,36.88,40.44,46.15,48.52,51.16,55.89,57.99,60.07,61.21,62.58,63.15,62.39,61.62];
const leftLeaders=[[41.449,37.57,41.376,38.34],[41.291,34.97,41.221,35.93],[41.123,34.28,41.053,35.06],[40.841,33.10,40.783,33.65],[40.339,32.55,40.254,32.69],[40.130,35.97,40.099,35.41],[39.950,37.71,39.894,37.14],[39.818,39.35,39.806,40.31],[40.640,47.60,40.534,46.31],[40.771,47.83,40.850,48.39],[39.846,53.08,39.834,51.25],[39.883,54.98,39.814,55.74],[39.947,57.08,39.880,57.83],[39.988,59.16,39.917,59.92],[40.140,60.61,40.084,61.07],[40.307,61.67,40.262,62.43],[40.436,62.78,40.495,62.93],[40.591,61.67,40.713,62.25],[40.654,60.94,40.877,61.47]];
const rightLeaders=[[41.445,37.60,41.384,38.22],[41.291,34.98,41.232,35.74],[41.124,34.30,41.063,34.91],[40.837,33.08,40.786,33.53],[40.337,32.52,40.264,32.63],[40.124,35.93,40.102,35.52],[39.950,37.69,39.899,37.26],[39.817,39.35,39.805,40.15],[40.642,47.64,40.546,46.54],[40.769,47.83,40.817,48.24],[39.846,53.05,39.834,51.53],[39.881,54.98,39.822,55.59],[39.947,57.11,39.888,57.72],[39.986,59.16,39.925,59.80],[40.140,60.57,40.091,60.94],[40.307,61.75,40.267,62.33],[40.434,62.78,40.470,62.87],[40.588,61.67,40.680,62.14],[40.654,60.94,40.829,61.37]];

const GRAY='rgb(128,128,128)',BLUE='rgb(25,110,250)',RED='rgb(250,70,30)';
const SANS='"Open Sans","Noto Sans",sans-serif', SERIF='"Liberation Serif",serif';
const toPts=f=>{const o=[];for(let i=0;i<f.length;i+=2)o.push({x:f[i],y:f[i+1]});return o;};
// A closed contour gets one hidden segment on each side, so the curve has no corner where it closes.
const ringSets=(rings,color,w)=>rings.map(r=>{
  const p=toPts(r),n=p.length,closed=n>3&&p[0].x===p[n-1].x&&p[0].y===p[n-1].y;
  const data=closed?[p[n-2],...p,p[1]]:p,last=data.length-1;
  return {type:'scatter',data,showLine:true,borderColor:color,borderWidth:w,pointRadius:0,tension:0.5,fill:false,
    segment:closed?{borderColor:c=>(c.p0DataIndex===0||c.p1DataIndex===last)?'rgba(0,0,0,0)':color}:undefined};
});

const panel={
 id:'panel',
 afterDatasetsDraw(ch,_,o){
  const c=ch.ctx,x=ch.scales.x,y=ch.scales.y,a=ch.chartArea;
  c.save();
  c.strokeStyle='#000';
  raTicks.forEach(v=>{const p=x.getPixelForValue(v),l=raMajor.includes(v)?8:4;c.lineWidth=1;c.beginPath();c.moveTo(p,a.top);c.lineTo(p,a.top+l);c.moveTo(p,a.bottom);c.lineTo(p,a.bottom-l);c.stroke();});
  decTicks.forEach(v=>{const p=y.getPixelForValue(v),l=decMajor.includes(v)?7:4;c.lineWidth=1;c.beginPath();c.moveTo(a.left,p);c.lineTo(a.left+l,p);c.moveTo(a.right,p);c.lineTo(a.right-l,p);c.stroke();});
  c.lineWidth=3;c.strokeRect(a.left,a.top,a.right-a.left,a.bottom-a.top);
  c.fillStyle='#222';c.font='12.5px '+SANS;c.textAlign='left';c.textBaseline='middle';
  names.forEach((n,i)=>c.fillText(n,x.getPixelForValue(o.labelRA[i]),y.getPixelForValue(o.labelDec[i])));
  const sx=x.getPixelForValue(starPos[0]),sy=y.getPixelForValue(starPos[1]);
  c.fillStyle='#000';c.beginPath();
  for(let i=0;i<10;i++){const r=i%2?2.2:5.4,t=-Math.PI/2+i*Math.PI/5;c[i?'lineTo':'moveTo'](sx+r*Math.cos(t),sy+r*Math.sin(t));}
  c.closePath();c.fill();
  c.strokeStyle='#222';c.lineWidth=1;const b=o.bar;c.beginPath();c.moveTo(b[0],b[2]);c.lineTo(b[1],b[2]);c.moveTo(b[0],b[2]-3);c.lineTo(b[0],b[2]+3);c.moveTo(b[1],b[2]-3);c.lineTo(b[1],b[2]+3);c.stroke();
  c.fillStyle='#222';c.font='10.5px '+SANS;c.textAlign='center';c.fillText('100 pc',(b[0]+b[1])/2,b[2]-10.5);
  o.keys.forEach(k=>{
   c.strokeStyle=k.color;c.lineWidth=1;c.strokeRect(k.box[0],k.box[1],k.box[2],k.box[3]);
   c.fillStyle=k.color;c.beginPath();c.ellipse(k.box[0]+k.box[2]/2,k.box[1]+k.box[3]/2,k.r[0],k.r[1],0,0,7);c.fill();
   c.fillStyle=k.text;c.font=k.size+'px '+SANS;c.textAlign='left';c.fillText(k.label,k.tx,k.ty);
  });
  c.restore();
 }
};

function build(id,o){
 const ds=[...o.leaders.map(l=>({type:'scatter',data:toPts(l),showLine:true,borderColor:'#000',borderWidth:1.4,pointRadius:0})),
  ...ringSets(o.red,RED,1.1),...ringSets(o.blue,BLUE,1.1),...ringSets(o.gray,GRAY,1)];
 new Chart(document.getElementById(id),{type:'scatter',data:{datasets:ds},plugins:[panel],options:{
  responsive:false,animation:false,devicePixelRatio:1,
  layout:{padding:{top:4.5,right:o.padR,left:0,bottom:0}},
  plugins:{legend:{display:false},tooltip:{enabled:false},panel:{labelRA:o.labelRA,labelDec:o.labelDec,bar:o.bar,keys:o.keys}},
  scales:{
   x:{type:'linear',position:'bottom',reverse:true,min:39.6565,max:41.5386,
    afterBuildTicks:s=>{s.ticks=raTicks.map(v=>({value:v}));},
    afterFit:s=>{s.height=61.3;s.paddingLeft=0;s.paddingRight=0;},
    grid:{display:false,drawTicks:false},border:{display:false},
    ticks:{autoSkip:false,maxRotation:0,minRotation:0,padding:2,color:'#222',font:{family:SANS,size:20},
     callback:v=>{const i=raMajor.findIndex(m=>Math.abs(m-v)<1e-6);return i<0?'':raLabels[i];}},
    title:{display:o.titles,text:'RA (J2000)',color:'#333',font:{family:SANS,size:22},padding:{top:0,bottom:2}}},
   y:{type:'linear',position:'left',reverse:true,min:31.39,max:63.88,
    afterBuildTicks:s=>{s.ticks=decTicks.map(v=>({value:v}));},
    afterFit:s=>{s.width=o.yw;s.paddingTop=0;s.paddingBottom=0;},
    grid:{display:false,drawTicks:false},border:{display:false},
    ticks:{display:o.titles,autoSkip:false,padding:3,color:'#333',font:{family:SERIF,size:25},
     callback:v=>{const i=decMajor.indexOf(v);return i<0?'':decLabels[i];}},
    title:{display:o.titles,text:'Dec (J2000)',color:'#333',font:{family:SANS,size:22},padding:{top:14,bottom:0}}}
  }}});
}
build('a',{gray:leftGray,blue:leftBlue,red:leftRed,leaders:leftLeaders,labelRA:leftLabelRA,labelDec:leftLabelDec,yw:98.5,padR:635,titles:true,bar:[121.3,153.7,614.7],
 keys:[{color:GRAY,text:'rgb(140,140,140)',box:[133.3,631.7,8.4,9],r:[2.8,2.5],label:'Paα',tx:152,ty:635,size:15.5},
       {color:BLUE,text:'rgb(30,120,255)',box:[126,648,23,23.7],r:[8.5,6],label:'147 GHz',tx:152,ty:661,size:15.5},
       {color:RED,text:'rgb(255,75,30)',box:[129.3,681,16.4,16.3],r:[6.5,5.5],label:'350 GHz',tx:152,ty:690,size:15.5}]});
build('b',{gray:rightGray,blue:rightBlue,red:rightRed,leaders:rightLeaders,labelRA:rightLabelRA,labelDec:rightLabelDec,yw:717,padR:16,titles:false,bar:[739.7,772.3,610.7],
 keys:[{color:GRAY,text:'rgb(140,140,140)',box:[745.3,620.7,21.4,21.6],r:[8,5.5],label:'Cont. 147 GHz',tx:768.5,ty:633,size:15.5},
       {color:BLUE,text:'rgb(30,120,255)',box:[745.3,647.3,21.7,22],r:[8.5,6],label:'HC₃N 16-15',tx:768.5,ty:656,size:15.5},
       {color:RED,text:'rgb(255,75,30)',box:[746,675.3,20.3,20.7],r:[7.5,5.5],label:'CS 3-2',tx:768.5,ty:685,size:15.5}]});
</script></body></html>
